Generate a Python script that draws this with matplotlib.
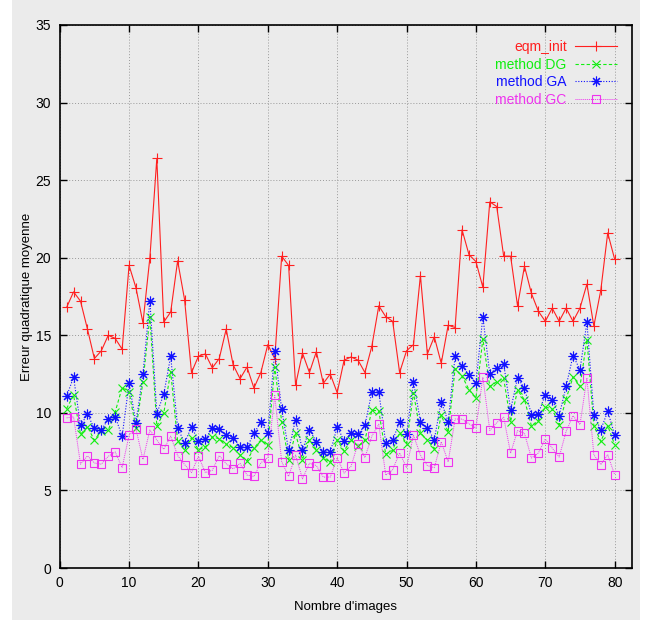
import matplotlib
matplotlib.use("Agg")
import matplotlib.pyplot as plt
from matplotlib.patches import Rectangle

plt.rcParams['font.family'] = ['Liberation Sans Narrow', 'Liberation Sans', 'DejaVu Sans']

images = list(range(1, 81))

eqm_init = [16.8, 17.8, 17.2, 15.4, 13.5, 14.0, 15.0, 14.8, 14.1, 19.5,
            18.05, 15.8, 20.0, 26.4, 15.85, 16.5, 19.8, 17.3, 12.6, 13.65,
            13.8, 12.9, 13.5, 15.4, 13.1, 12.2, 12.95, 11.6, 12.6, 14.4,
            13.5, 20.1, 19.5, 11.8, 13.85, 12.6, 13.95, 11.9, 12.5, 11.3,
            13.4, 13.6, 13.4, 12.6, 14.3, 16.9, 16.2, 15.9, 12.6, 14.0,
            14.4, 18.85, 13.8, 14.9, 13.2, 15.65, 15.5, 21.8, 20.2, 19.75,
            18.1, 23.6, 23.3, 20.1, 20.1, 16.9, 19.45, 17.7, 16.55, 15.9,
            16.75, 15.9, 16.75, 15.9, 16.75, 18.3, 15.6, 17.9, 21.6, 19.9]

method_dg = [10.28, 11.14, 8.62, 9.1, 8.24, 8.84, 8.88, 10.06, 11.63, 11.35,
             9.0, 12.0, 16.2, 9.15, 9.98, 12.65, 8.18, 7.6, 8.4, 7.62,
             7.8, 8.45, 8.33, 7.98, 7.75, 7.28, 6.92, 7.72, 8.25, 7.9,
             12.95, 9.43, 6.99, 8.67, 6.99, 8.24, 7.63, 7.1, 6.82, 8.24,
             7.55, 8.28, 7.85, 8.24, 10.17, 10.13, 7.33, 7.59, 8.71, 8.02,
             11.29, 8.71, 8.24, 7.7, 9.85, 8.77, 12.85, 12.37, 11.5, 10.96,
             14.76, 11.7, 12.0, 12.22, 9.44, 11.45, 10.85, 9.17, 9.45, 10.38,
             10.25, 9.24, 10.9, 12.31, 11.71, 14.72, 9.17, 8.16, 9.17, 7.95]

method_ga = [11.07, 12.3, 9.2, 9.9, 9.0, 8.9, 9.6, 9.75, 8.5, 11.9,
             9.35, 12.5, 17.24, 9.95, 11.2, 13.65, 9.05, 8.05, 9.1, 8.18,
             8.33, 9.0, 8.95, 8.55, 8.4, 7.82, 7.78, 8.68, 9.4, 8.7,
             14.0, 10.22, 7.6, 9.57, 7.6, 8.92, 8.13, 7.5, 7.45, 9.1,
             8.2, 8.67, 8.62, 9.2, 11.35, 11.35, 8.06, 8.24, 9.42, 8.62,
             12.0, 9.42, 9.0, 8.28, 10.72, 9.43, 13.65, 13.04, 12.44, 11.9,
             16.2, 12.5, 12.9, 13.15, 10.2, 12.25, 11.6, 9.88, 9.95, 11.17,
             10.85, 9.82, 11.71, 13.69, 12.78, 15.84, 9.88, 8.91, 10.1, 8.59]

method_gc = [9.68, 9.74, 6.69, 7.23, 6.77, 6.69, 7.2, 7.48, 6.47, 8.56,
             8.95, 6.99, 8.9, 8.25, 7.65, 8.5, 7.25, 6.67, 6.15, 7.2,
             6.15, 6.3, 7.25, 6.72, 6.39, 6.74, 5.99, 5.9, 6.78, 7.11,
             11.12, 6.85, 5.9, 7.28, 5.75, 6.76, 6.6, 5.86, 5.86, 7.1,
             6.12, 6.56, 8.02, 7.12, 8.5, 9.27, 5.98, 6.34, 7.42, 6.47,
             8.56, 7.27, 6.6, 6.47, 8.13, 6.84, 9.6, 9.6, 9.3, 9.01,
             12.3, 8.87, 9.37, 9.72, 7.4, 8.86, 8.68, 7.09, 7.41, 8.31,
             7.73, 7.15, 8.81, 9.82, 9.24, 12.25, 7.3, 6.66, 7.3, 6.01]

labels = ["eqm_init", "method DG", "method GA", "method GC"]
x_ticks = [0, 10, 20, 30, 40, 50, 60, 70, 80]
y_ticks = [0, 5, 10, 15, 20, 25, 30, 35]

bg = "#ebebeb"
fig = plt.figure(figsize=(6.52, 6.2), dpi=100, facecolor="white")
fig.patches.append(Rectangle((12 / 652, 0), (640 - 12) / 652, 1,
                             transform=fig.transFigure, facecolor=bg,
                             edgecolor="none", zorder=-10))
ax = fig.add_axes([59.7 / 652, 1 - 568 / 620, (632 - 59.7) / 652, (568 - 25) / 620])
ax.set_facecolor(bg)

ax.plot(images, eqm_init, color="#ff2020", lw=0.8, ls="-", marker="+", ms=6.5,
        mew=0.8, label=labels[0])
ax.plot(images, method_dg, color="#11ee11", lw=0.8, ls=(0, (3, 2)), marker="x",
        ms=5.5, mew=0.8, label=labels[1])
ax.plot(images, method_ga, color="#1111ff", lw=0.8, ls=(0, (1, 1.5)),
        marker=(8, 2, 0), ms=7, mew=0.8, label=labels[2])
ax.plot(images, method_gc, color="#ee33ee", lw=0.7, ls=(0, (1, 1)), marker="s",
        ms=5.5, mew=0.8, mfc="none", label=labels[3])

ax.set_xlim(0, 82.5)
ax.set_ylim(0, 35)
ax.set_xticks(x_ticks)
ax.set_yticks(y_ticks)
ax.tick_params(direction="in", length=5, width=1, top=True, right=True,
               labelsize=10, colors="black", pad=6)
ax.grid(True, color="#999999", ls=(0, (1, 2)), lw=0.7)
for s in ax.spines.values():
    s.set_color("black")
    s.set_linewidth(1.2)

ax.set_xlabel("Nombre d'images", fontsize=9.5, labelpad=8)
ax.set_ylabel("Erreur quadratique moyenne", fontsize=9.5, labelpad=2)

leg = ax.legend(loc="upper right", bbox_to_anchor=(0.995, 0.995), frameon=False,
                markerfirst=False, labelcolor="linecolor", fontsize=10,
                handlelength=3.0, handletextpad=0.6, labelspacing=0.25)

fig.savefig("out.png", dpi=100, facecolor=fig.get_facecolor())
